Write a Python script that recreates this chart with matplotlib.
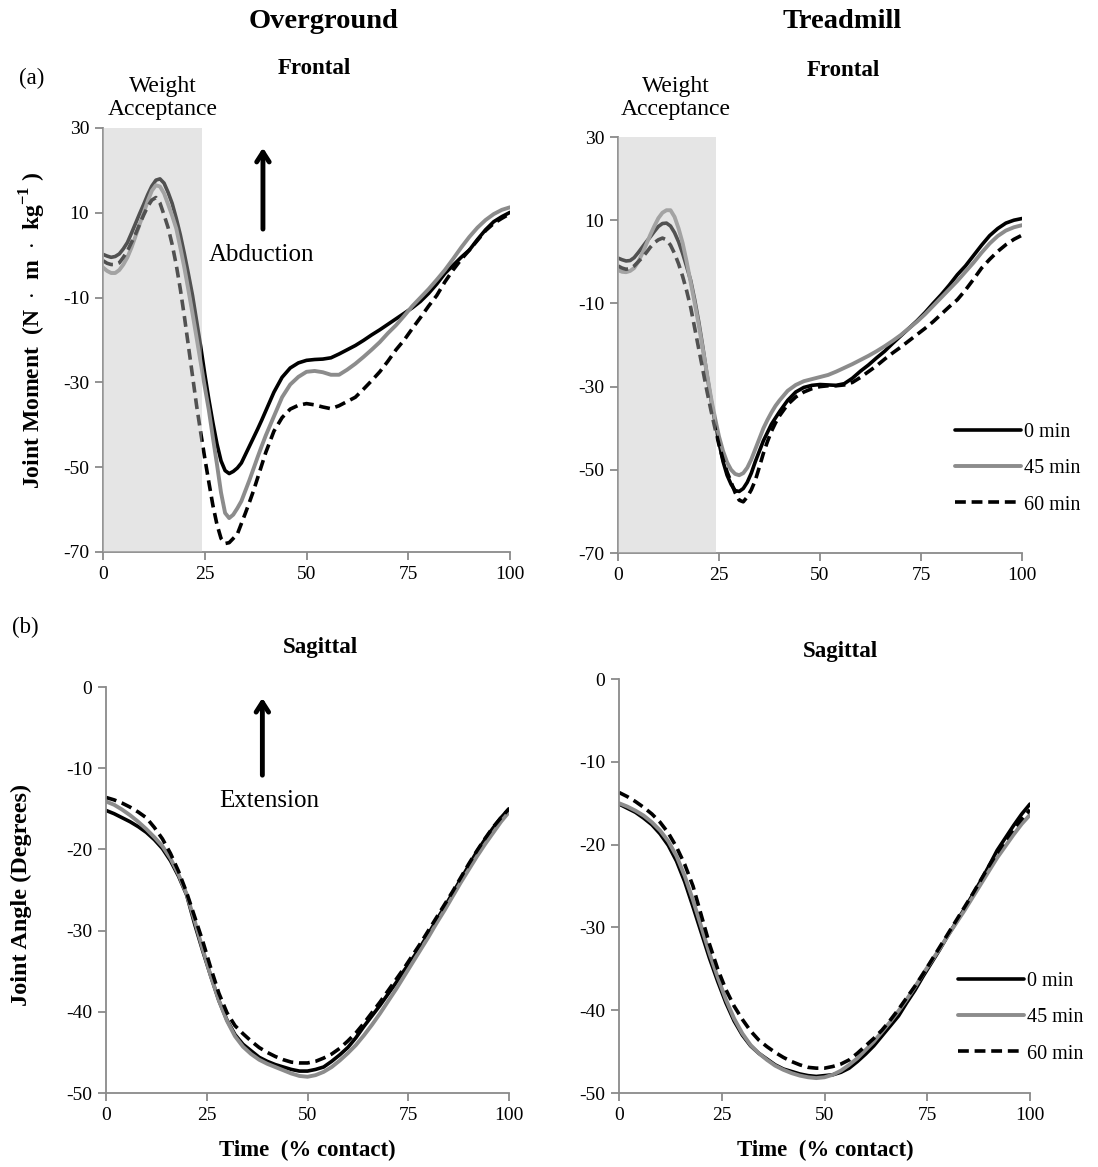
import matplotlib
matplotlib.use("Agg")
import matplotlib.pyplot as plt

plt.rcParams['font.family'] = ['Liberation Serif', 'DejaVu Serif']
plt.rcParams['mathtext.fontset'] = 'custom'
plt.rcParams['mathtext.rm'] = 'Liberation Serif'
plt.rcParams['mathtext.bf'] = 'Liberation Serif:bold'
plt.rcParams['axes.unicode_minus'] = False

# ---------------- data ----------------
labels = ["0 min", "45 min", "60 min"]

# % contact sample points
frontal_time = list(range(0, 40)) + list(range(40, 101, 2))
sagittal_time = list(range(0, 101, 2))

# Frontal joint moment, overground
og_frontal_0 = [0.2, -0.2, -0.5, -0.3, 0.3, 1.5, 3, 5.2, 7.5, 9.8, 12, 14.3, 16.3, 17.7, 18, 17, 14.8, 12.2,
                8.7, 4.8, 0.3, -4.5, -9.5, -15.5, -21.5, -28, -34, -39.5, -44.5, -48.5, -50.8, -51.5, -51,
                -50.2, -49, -47, -45, -43, -41, -38.9,
                -36.7, -32.3, -28.8, -26.6, -25.4, -24.8, -24.6, -24.5, -24.2, -23.3, -22.3, -21.3, -20.1,
                -18.8, -17.6, -16.3, -15, -13.7, -12.4, -10.9, -9, -6.8, -4.3, -2.4, -0.5, 1.2, 3.7, 6, 7.9,
                9.1, 10.1]
og_frontal_45 = [-2.9, -3.7, -4.2, -4.2, -3.5, -2.2, -0.5, 1.8, 4.5, 7.3, 10, 12.8, 15.2, 16.5, 16.2, 14.6,
                 12, 9.3, 6.3, 1.8, -3, -8.3, -13.8, -19.5, -25.3, -31, -36.5, -43, -49.3, -56, -60.8, -62,
                 -61.2, -59.7, -58, -55.5, -53, -50.3, -47.6, -45,
                 -42.5, -38, -33.5, -30.5, -28.7, -27.5, -27.3, -27.6, -28.2, -28.2, -27, -25.6, -24, -22.3,
                 -20.5, -18.4, -16.5, -14.3, -12, -10, -8, -5.8, -3.5, -0.9, 1.8, 4.3, 6.5, 8.3, 9.7, 10.7,
                 11.3]
og_frontal_60 = [-1.3, -1.9, -2.2, -2.2, -1.8, -0.5, 1, 3, 5, 7.3, 9.5, 11.5, 13, 13.6, 12.3, 9.5, 6.5, 2.5,
                 -2.3, -8, -14.5, -21.5, -28.5, -35.5, -41.8, -47.8, -53.5, -59, -63.5, -66.8, -68, -67.8,
                 -66.8, -65.8, -63.3, -60.8, -58.2, -55.5, -52.5, -49.5,
                 -46.5, -41.5, -38.3, -36.3, -35.4, -35, -35.3, -35.8, -36.2, -35.5, -34.5, -33.5, -31.6,
                 -29.6, -27.5, -25, -22.3, -20, -17.3, -14.7, -12, -9.5, -6.3, -3.5, -1, 1.2, 3.5, 5.8, 7.5,
                 8.7, 9.8]

# Frontal joint moment, treadmill
tm_frontal_0 = [0.9, 0.5, 0.2, 0.3, 1, 2.2, 3.5, 4.8, 6, 7.3, 8.5, 9.2, 9.3, 8.6, 7, 4.8, 2, -1.2, -4.5, -9.2,
                -14.5, -20.5, -27, -33, -38.5, -43.5, -48, -51.3, -53.5, -55, -55.2, -54.5, -53, -50.8, -48,
                -45.5, -43, -41, -39, -37.5,
                -36, -33.3, -31.3, -30.2, -29.7, -29.5, -29.6, -29.7, -29.3, -28, -26.3, -24.8, -23.1, -21.5,
                -19.6, -17.8, -16, -14.2, -12.2, -10, -7.9, -5.6, -3.1, -1, 1.5, 4, 6.3, 8, 9.3, 10, 10.4]
tm_frontal_45 = [-2, -2.4, -2.5, -2.2, -1.5, 0, 2, 4.2, 6.5, 8.6, 10.5, 11.8, 12.4, 12.4, 10.8, 8, 4.5, 0, -5,
                 -10, -15.3, -21, -26.8, -32.5, -37.5, -42, -45.5, -48.2, -50, -51, -51.3, -50.8, -49.5,
                 -47.5, -45, -42.5, -40, -38, -36.2, -34.6,
                 -33.3, -31, -29.6, -28.7, -28.2, -27.7, -27.2, -26.4, -25.5, -24.6, -23.6, -22.6, -21.5,
                 -20.3, -19, -17.6, -16, -14.4, -12.6, -10.6, -8.6, -6.6, -4.6, -2.4, -0.2, 2.2, 4.4, 6.2, 7.5,
                 8.3, 8.8]
tm_frontal_60 = [-1, -1.5, -1.8, -1.6, -1, 0, 1, 2.2, 3.5, 4.6, 5.3, 5.7, 5.3, 4, 2, -0.5, -3.5, -7, -11, -16,
                 -21, -26, -31, -35.7, -40, -44, -47.5, -50.5, -53, -55.5, -57.3, -57.7, -56.5, -54.8, -52.5,
                 -49.3, -46, -43.2, -40.7, -38.7,
                 -37, -34.3, -32.5, -31.3, -30.5, -30, -29.8, -29.8, -29.6, -29, -27.8, -26.4, -25, -23.4,
                 -21.9, -20.5, -19, -17.5, -16, -14.4, -12.6, -10.8, -9.1, -6.8, -4.2, -1.5, 0.6, 2.5, 4.1,
                 5.4, 6.4]

# Sagittal joint angle, overground
og_sagittal_0 = [-15.2, -15.6, -16.1, -16.6, -17.2, -17.9, -18.8, -19.9, -21.4, -23.3, -25.6, -29.2, -32.5,
                 -35.6, -38.6, -41, -42.8, -44, -44.8, -45.6, -46.1, -46.5, -46.8, -47.1, -47.3, -47.3,
                 -47.1, -46.8, -46.1, -45.3, -44.4, -43.2, -41.8, -40.5, -39.2, -37.8, -36.4, -34.9, -33.5,
                 -32, -30.4, -28.7, -27.1, -25.4, -23.7, -22, -20.3, -18.8, -17.4, -16.1, -15]
og_sagittal_45 = [-14.1, -14.5, -15.1, -15.8, -16.6, -17.5, -18.5, -19.6, -21.1, -23.1, -25.5, -28.8,
                  -32.3, -35.6, -38.6, -41.1, -43, -44.3, -45.2, -45.9, -46.4, -46.8, -47.2, -47.6, -47.9,
                  -48, -47.8, -47.4, -46.8, -46, -45.1, -44.1, -42.9, -41.6, -40.2, -38.7, -37.2, -35.6,
                  -34, -32.4, -30.8, -29.1, -27.5, -25.8, -24.1, -22.5, -20.9, -19.4, -18, -16.6, -15.4]
og_sagittal_60 = [-13.6, -13.9, -14.3, -14.8, -15.4, -16.1, -17.3, -18.7, -20.5, -22.7, -25.3, -28.3,
                  -31.3, -34.6, -37.7, -40.1, -41.7, -42.7, -43.6, -44.4, -45, -45.5, -45.9, -46.2, -46.3,
                  -46.3, -46.1, -45.7, -45.2, -44.5, -43.6, -42.6, -41.4, -40.1, -38.8, -37.4, -36, -34.6,
                  -33.1, -31.6, -30, -28.4, -26.8, -25.2, -23.5, -21.8, -20.2, -18.7, -17.3, -16.1, -15]

# Sagittal joint angle, treadmill
tm_sagittal_0 = [-15.1, -15.6, -16.1, -16.8, -17.6, -18.7, -20.1, -22, -24.5, -27.5, -30.6, -33.7, -36.5,
                 -39.1, -41.3, -43, -44.3, -45.2, -45.9, -46.6, -47.1, -47.4, -47.7, -47.9, -48, -47.9,
                 -47.8, -47.5, -47, -46.2, -45.3, -44.3, -43.1, -41.9, -40.7, -39.1, -37.6, -35.9, -34.3,
                 -32.7, -31, -29.4, -27.8, -26.1, -24.4, -22.6, -20.7, -19.2, -17.7, -16.3, -15.1]
tm_sagittal_45 = [-15, -15.4, -15.9, -16.5, -17.3, -18.3, -19.6, -21.4, -23.8, -26.7, -29.9, -33.1, -36,
                  -38.7, -41, -42.8, -44.2, -45.2, -46, -46.7, -47.2, -47.6, -47.9, -48.1, -48.2, -48.1,
                  -47.8, -47.3, -46.6, -45.8, -44.8, -43.8, -42.6, -41.4, -40.1, -38.7, -37.2, -35.6, -34.1,
                  -32.6, -31, -29.5, -28, -26.4, -24.8, -23.2, -21.6, -20.2, -18.8, -17.5, -16.4]
tm_sagittal_60 = [-13.7, -14.2, -14.8, -15.5, -16.3, -17.3, -18.6, -20.3, -22.4, -25, -28.5, -32, -35,
                  -37.5, -39.5, -41.1, -42.5, -43.6, -44.4, -45.1, -45.7, -46.2, -46.6, -46.9, -47, -47,
                  -46.8, -46.5, -46, -45.2, -44.3, -43.4, -42.4, -41.2, -39.9, -38.5, -37.1, -35.6, -34,
                  -32.4, -30.8, -29.2, -27.6, -26, -24.3, -22.6, -21, -19.5, -18.1, -16.9, -15.8]

x_ticks = [0, 25, 50, 75, 100]
frontal_yticks = [30, 10, -10, -30, -50, -70]
sagittal_yticks = [0, -10, -20, -30, -40, -50]
weight_acceptance_end = 24.3

# ---------------- figure ----------------
W, H = 1098, 1167
fig = plt.figure(figsize=(W / 100, H / 100), dpi=100)


def ax_at(x0, x1, ytop, ybot):
    return fig.add_axes([x0 / W, 1 - ybot / H, (x1 - x0) / W, (ybot - ytop) / H])


ax_tl = ax_at(103, 510, 128, 552)
ax_tr = ax_at(618, 1022, 137, 553)
ax_bl = ax_at(106, 509, 687, 1093)
ax_br = ax_at(619, 1030, 679, 1093)

SPINE = '#8a8a8a'
styles = [dict(color='black', lw=2.6, ls='-'),
          dict(color='#8c8c8c', lw=2.8, ls='-'),
          dict(color='black', lw=2.6, ls=(0, (3, 1.6)))]


def style_axes(ax, yticks):
    for s in ['top', 'right']:
        ax.spines[s].set_visible(False)
    for s in ['left', 'bottom']:
        ax.spines[s].set_color(SPINE)
        ax.spines[s].set_linewidth(1.3)
    ax.set_xlim(0, 100)
    ax.set_ylim(min(yticks), max(yticks))
    ax.set_xticks(x_ticks)
    ax.set_yticks(yticks)
    ax.tick_params(direction='out', length=6, width=1.3, color=SPINE, labelsize=14, pad=4)


def draw(ax, xs, series, yticks, shade):
    style_axes(ax, yticks)
    handles = []
    for ys, st, lab in zip(series, styles, labels):
        h, = ax.plot(xs, ys, label=lab, zorder=2, solid_capstyle='round',
                     solid_joinstyle='round', **st)
        handles.append(h)
    if shade:
        ax.axvspan(0, weight_acceptance_end, color='#c3c3c3', alpha=0.42, lw=0, zorder=3)
    return handles


draw(ax_tl, frontal_time, [og_frontal_0, og_frontal_45, og_frontal_60], frontal_yticks, True)
h_tr = draw(ax_tr, frontal_time, [tm_frontal_0, tm_frontal_45, tm_frontal_60], frontal_yticks, True)
draw(ax_bl, sagittal_time, [og_sagittal_0, og_sagittal_45, og_sagittal_60], sagittal_yticks, False)
h_br = draw(ax_br, sagittal_time, [tm_sagittal_0, tm_sagittal_45, tm_sagittal_60], sagittal_yticks, False)

# legends
for ax, hs, (lx, ly) in [(ax_tr, h_tr, (955, 423)), (ax_br, h_br, (958, 972))]:
    ax.legend(hs, labels, loc='upper left', bbox_to_anchor=(lx / W, 1 - ly / H),
              bbox_transform=fig.transFigure, frameon=False, fontsize=14.5,
              handlelength=3.3, handletextpad=0.15, labelspacing=0.85, borderpad=0,
              borderaxespad=0)

# arrows and direction labels
ax_tl.annotate('', xy=(39.3, 26), xytext=(39.3, 5.5),
               arrowprops=dict(arrowstyle='->,head_length=0.7,head_width=0.45', lw=3.5, color='black'))
ax_tl.text(39.0, 0.0, 'Abduction', ha='center', va='center', fontsize=18)
ax_bl.annotate('', xy=(38.8, -1.0), xytext=(38.8, -11.2),
               arrowprops=dict(arrowstyle='->,head_length=0.7,head_width=0.45', lw=3.5, color='black'))
ax_bl.text(40.4, -14.1, 'Extension', ha='center', va='center', fontsize=18)


# figure texts
def ftext(x, y, s, **kw):
    fig.text(x / W, 1 - y / H, s, ha='center', va='center', **kw)


ftext(324, 22, 'Overground', fontsize=20.5, fontweight='bold')
ftext(842, 22, 'Treadmill', fontsize=20.5, fontweight='bold')
ftext(32, 78, '(a)', fontsize=16.5)
ftext(25, 627, '(b)', fontsize=16.5)
ftext(314, 69, 'Frontal', fontsize=16.5, fontweight='bold')
ftext(843, 71, 'Frontal', fontsize=16.5, fontweight='bold')
ftext(320, 648, 'Sagittal', fontsize=16.5, fontweight='bold')
ftext(840, 651, 'Sagittal', fontsize=16.5, fontweight='bold')
ftext(163, 98, 'Weight\nAcceptance', fontsize=17, linespacing=1.1)
ftext(676, 98, 'Weight\nAcceptance', fontsize=17, linespacing=1.1)
ftext(33, 330, r'Joint Moment  (N  $\cdot$  m  $\cdot$  kg$^{\mathbf{-1}}$ )', fontsize=17,
      fontweight='bold', rotation=90)
ftext(21, 895, 'Joint Angle (Degrees)', fontsize=17.5, fontweight='bold', rotation=90)
ftext(307, 1150, 'Time  (% contact)', fontsize=16.5, fontweight='bold')
ftext(825, 1150, 'Time  (% contact)', fontsize=16.5, fontweight='bold')

fig.savefig('out.png', dpi=100)
